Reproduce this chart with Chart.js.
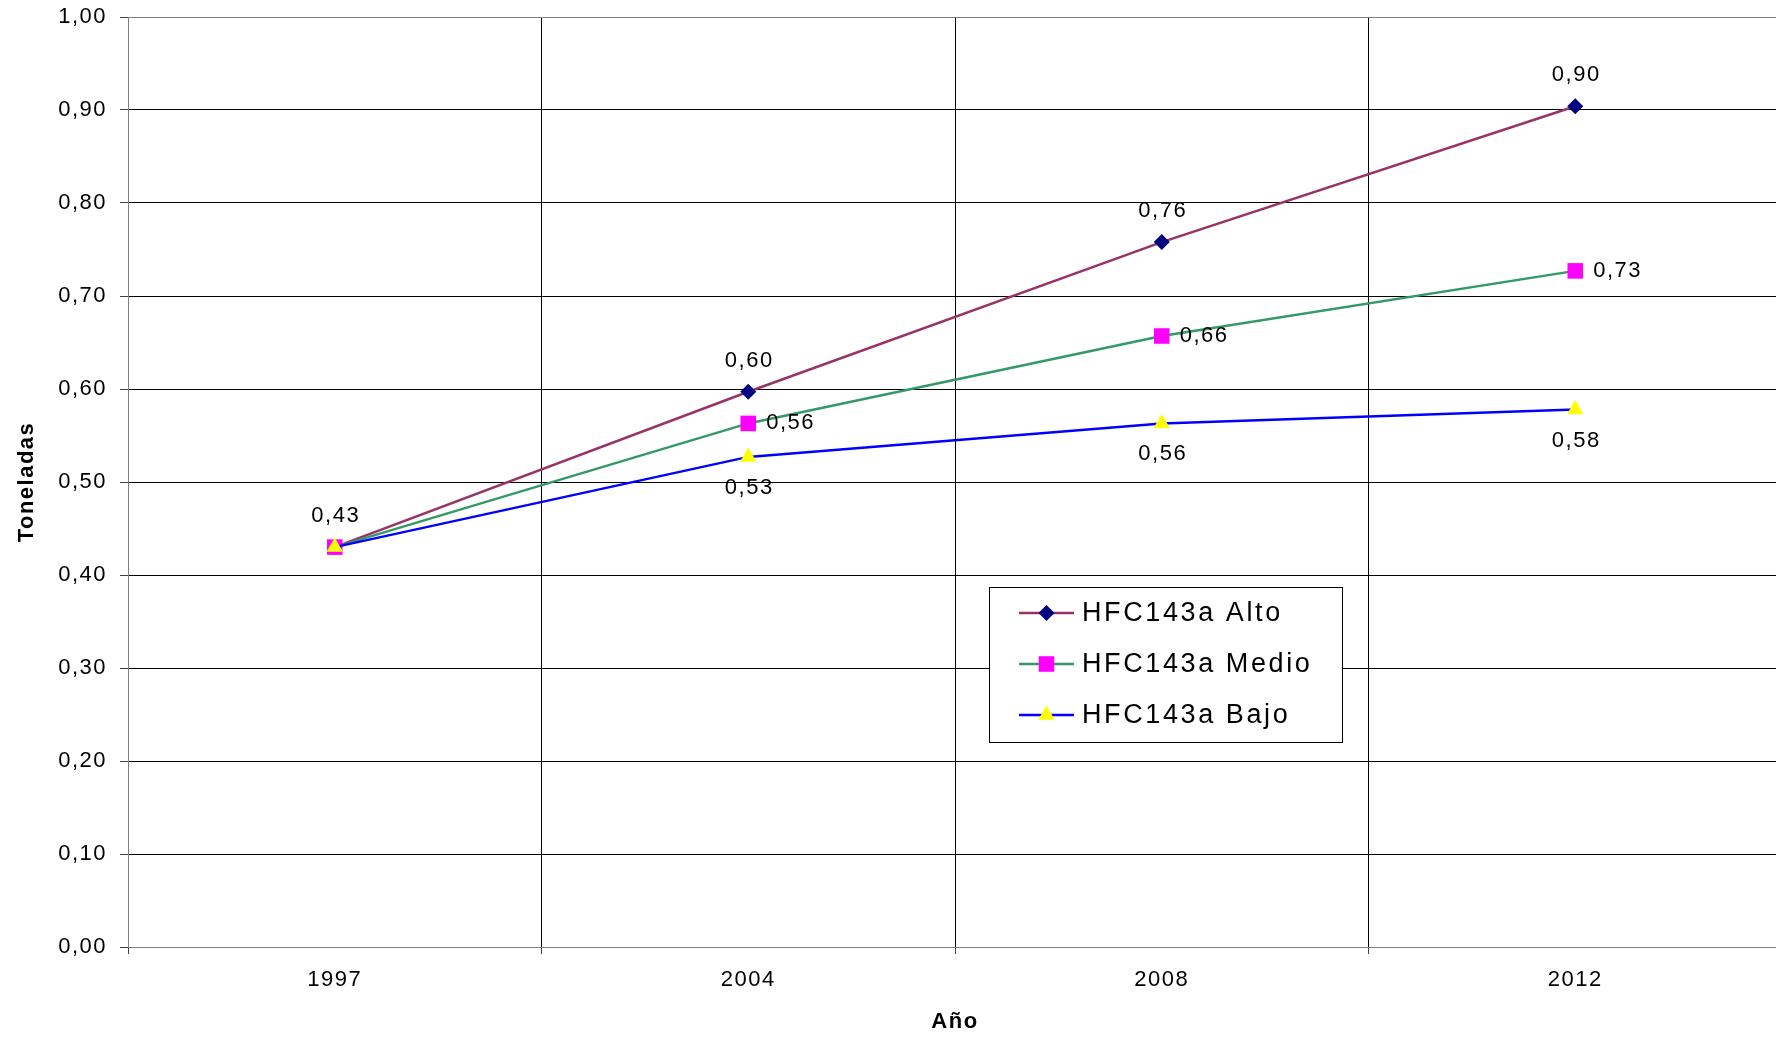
<!DOCTYPE html>
<html><head><meta charset="utf-8">
<script src="https://cdn.jsdelivr.net/npm/chart.js@4.4.0/dist/chart.umd.min.js"></script>
<style>
html,body{margin:0;padding:0;overflow:hidden;background:#fff;width:1776px;height:1039px}
#wrap{width:1794px;height:1039px}
</style></head>
<body><div id="wrap"><canvas id="c" width="1794" height="1039"></canvas></div>
<script>
const years = ['1997', '2004', '2008', '2012'];
const seriesNames = ['HFC143a Alto', 'HFC143a Medio', 'HFC143a Bajo'];
const alto  = [0.43, 0.597, 0.758, 0.904];
const medio = [0.43, 0.563, 0.657, 0.727];
const bajo  = [0.43, 0.527, 0.563, 0.578];
const yMin = 0, yMax = 1.0, yStep = 0.1;
const xTitle = 'Año';
const yTitle = 'Toneladas';

const FONT = "'Liberation Sans', Arial, sans-serif";
const fmt = v => v.toFixed(2).replace('.', ',');

const spacingPlugin = {
  id: 'spacing',
  beforeDraw(chart) { chart.ctx.letterSpacing = '1.5px'; }
};

const labelPlugin = {
  id: 'vlabels',
  afterDatasetsDraw(chart) {
    const ctx = chart.ctx;
    ctx.save();
    ctx.letterSpacing = '1.5px';
    ctx.font = '22px ' + FONT;
    ctx.fillStyle = '#000';
    ctx.textBaseline = 'middle';
    chart.data.datasets.forEach((ds, di) => {
      const meta = chart.getDatasetMeta(di);
      meta.data.forEach((pt, i) => {
        if (ds.labelSkip && ds.labelSkip.includes(i)) return;
        const txt = fmt(ds.data[i]);
        if (ds.labelPos === 'above') { ctx.textAlign = 'center'; ctx.fillText(txt, pt.x + 1, pt.y - 31); }
        else if (ds.labelPos === 'below') { ctx.textAlign = 'center'; ctx.fillText(txt, pt.x + 1, pt.y + 31); }
        else { ctx.textAlign = 'left'; ctx.fillText(txt, pt.x + 18, pt.y); }
      });
    });
    ctx.restore();
  }
};

function marker(ctx, style, r, x, y, color) {
  ctx.fillStyle = color;
  ctx.beginPath();
  if (style === 'rectRot') {
    ctx.moveTo(x, y - r); ctx.lineTo(x + r, y); ctx.lineTo(x, y + r); ctx.lineTo(x - r, y);
  } else if (style === 'rect') {
    const s = Math.SQRT1_2 * r; ctx.rect(x - s, y - s, 2 * s, 2 * s);
  } else if (style === 'triangle') {
    let a = 0;
    for (let k = 0; k < 3; k++) {
      const px = x + Math.sin(a) * r, py = y - Math.cos(a) * r;
      k === 0 ? ctx.moveTo(px, py) : ctx.lineTo(px, py);
      a += 2 * Math.PI / 3;
    }
  }
  ctx.closePath();
  ctx.fill();
}

const legendPlugin = {
  id: 'boxLegend',
  afterDraw(chart) {
    const ctx = chart.ctx;
    ctx.save();
    const bx = 989.5, by = 587.5, bw = 353, bh = 155;
    ctx.fillStyle = '#fff';
    ctx.fillRect(bx, by, bw, bh);
    ctx.strokeStyle = '#000';
    ctx.lineWidth = 1;
    ctx.strokeRect(bx, by, bw, bh);
    const rows = [613, 664, 715];
    chart.data.datasets.forEach((ds, i) => {
      const y = rows[i];
      ctx.strokeStyle = ds.borderColor;
      ctx.lineWidth = 2.5;
      ctx.beginPath(); ctx.moveTo(1019, y); ctx.lineTo(1074, y); ctx.stroke();
      marker(ctx, ds.pointStyle, ds.pointRadius, 1046.5, y, ds.pointBackgroundColor);
      ctx.fillStyle = '#000';
      ctx.font = '27px ' + FONT;
      ctx.letterSpacing = '2.6px';
      ctx.textAlign = 'left';
      ctx.textBaseline = 'middle';
      ctx.fillText(ds.label, 1082, y + 1);
    });
    ctx.restore();
  }
};

new Chart(document.getElementById('c'), {
  type: 'line',
  data: {
    labels: years,
    datasets: [
      { label: seriesNames[0], data: alto, borderColor: '#993366', borderWidth: 2.5,
        pointStyle: 'rectRot', pointRadius: 8, pointBackgroundColor: '#000080', pointBorderColor: '#000080', pointBorderWidth: 0,
        labelPos: 'above', order: 2 },
      { label: seriesNames[1], data: medio, borderColor: '#339966', borderWidth: 2.5,
        pointStyle: 'rect', pointRadius: 11, pointBackgroundColor: '#FF00FF', pointBorderColor: '#FF00FF', pointBorderWidth: 0,
        labelPos: 'right', labelSkip: [0], order: 1 },
      { label: seriesNames[2], data: bajo, borderColor: '#0000FF', borderWidth: 2.5,
        pointStyle: 'triangle', pointRadius: 9.5, pointBackgroundColor: '#FFFF00', pointBorderColor: '#FFFF00', pointBorderWidth: 0,
        labelPos: 'below', labelSkip: [0], order: 0 }
    ]
  },
  options: {
    responsive: false,
    animation: false,
    devicePixelRatio: 1,
    layout: { padding: { top: 17, right: 12, left: 0, bottom: 0 } },
    plugins: { legend: { display: false }, tooltip: { enabled: false } },
    elements: { line: { tension: 0 }, point: { hoverRadius: 0 } },
    scales: {
      x: {
        type: 'category',
        offset: true,
        grid: { offset: true, color: '#000', lineWidth: 1, tickLength: 7, tickColor: '#404040' },
        border: { color: '#808080', width: 1 },
        ticks: { color: '#000', font: { family: FONT, size: 22 }, padding: 13, maxRotation: 0 },
        title: { display: true, text: xTitle, color: '#000', font: { family: FONT, size: 22, weight: 'bold' }, padding: { top: 0, bottom: 4 } },
        afterFit(s) { s.height = 92; s.paddingLeft = 0; s.paddingRight = 0; s.paddingTop = 0; s.paddingBottom = 0; }
      },
      y: {
        min: yMin, max: yMax,
        grid: { color: c => (c.tick && c.tick.value === yMax) ? '#808080' : '#000', lineWidth: 1, tickLength: 8, tickColor: '#404040' },
        border: { color: '#808080', width: 1 },
        ticks: { stepSize: yStep, color: '#000', font: { family: FONT, size: 22 }, padding: 13, callback: v => fmt(v) },
        title: { display: true, text: yTitle, color: '#000', font: { family: FONT, size: 22, weight: 'bold' }, padding: { top: 14, bottom: 0 } },
        afterFit(s) { s.width = 128; s.paddingLeft = 0; s.paddingRight = 0; s.paddingTop = 0; s.paddingBottom = 0; }
      }
    }
  },
  plugins: [spacingPlugin, labelPlugin, legendPlugin]
});
</script>
</body></html>
